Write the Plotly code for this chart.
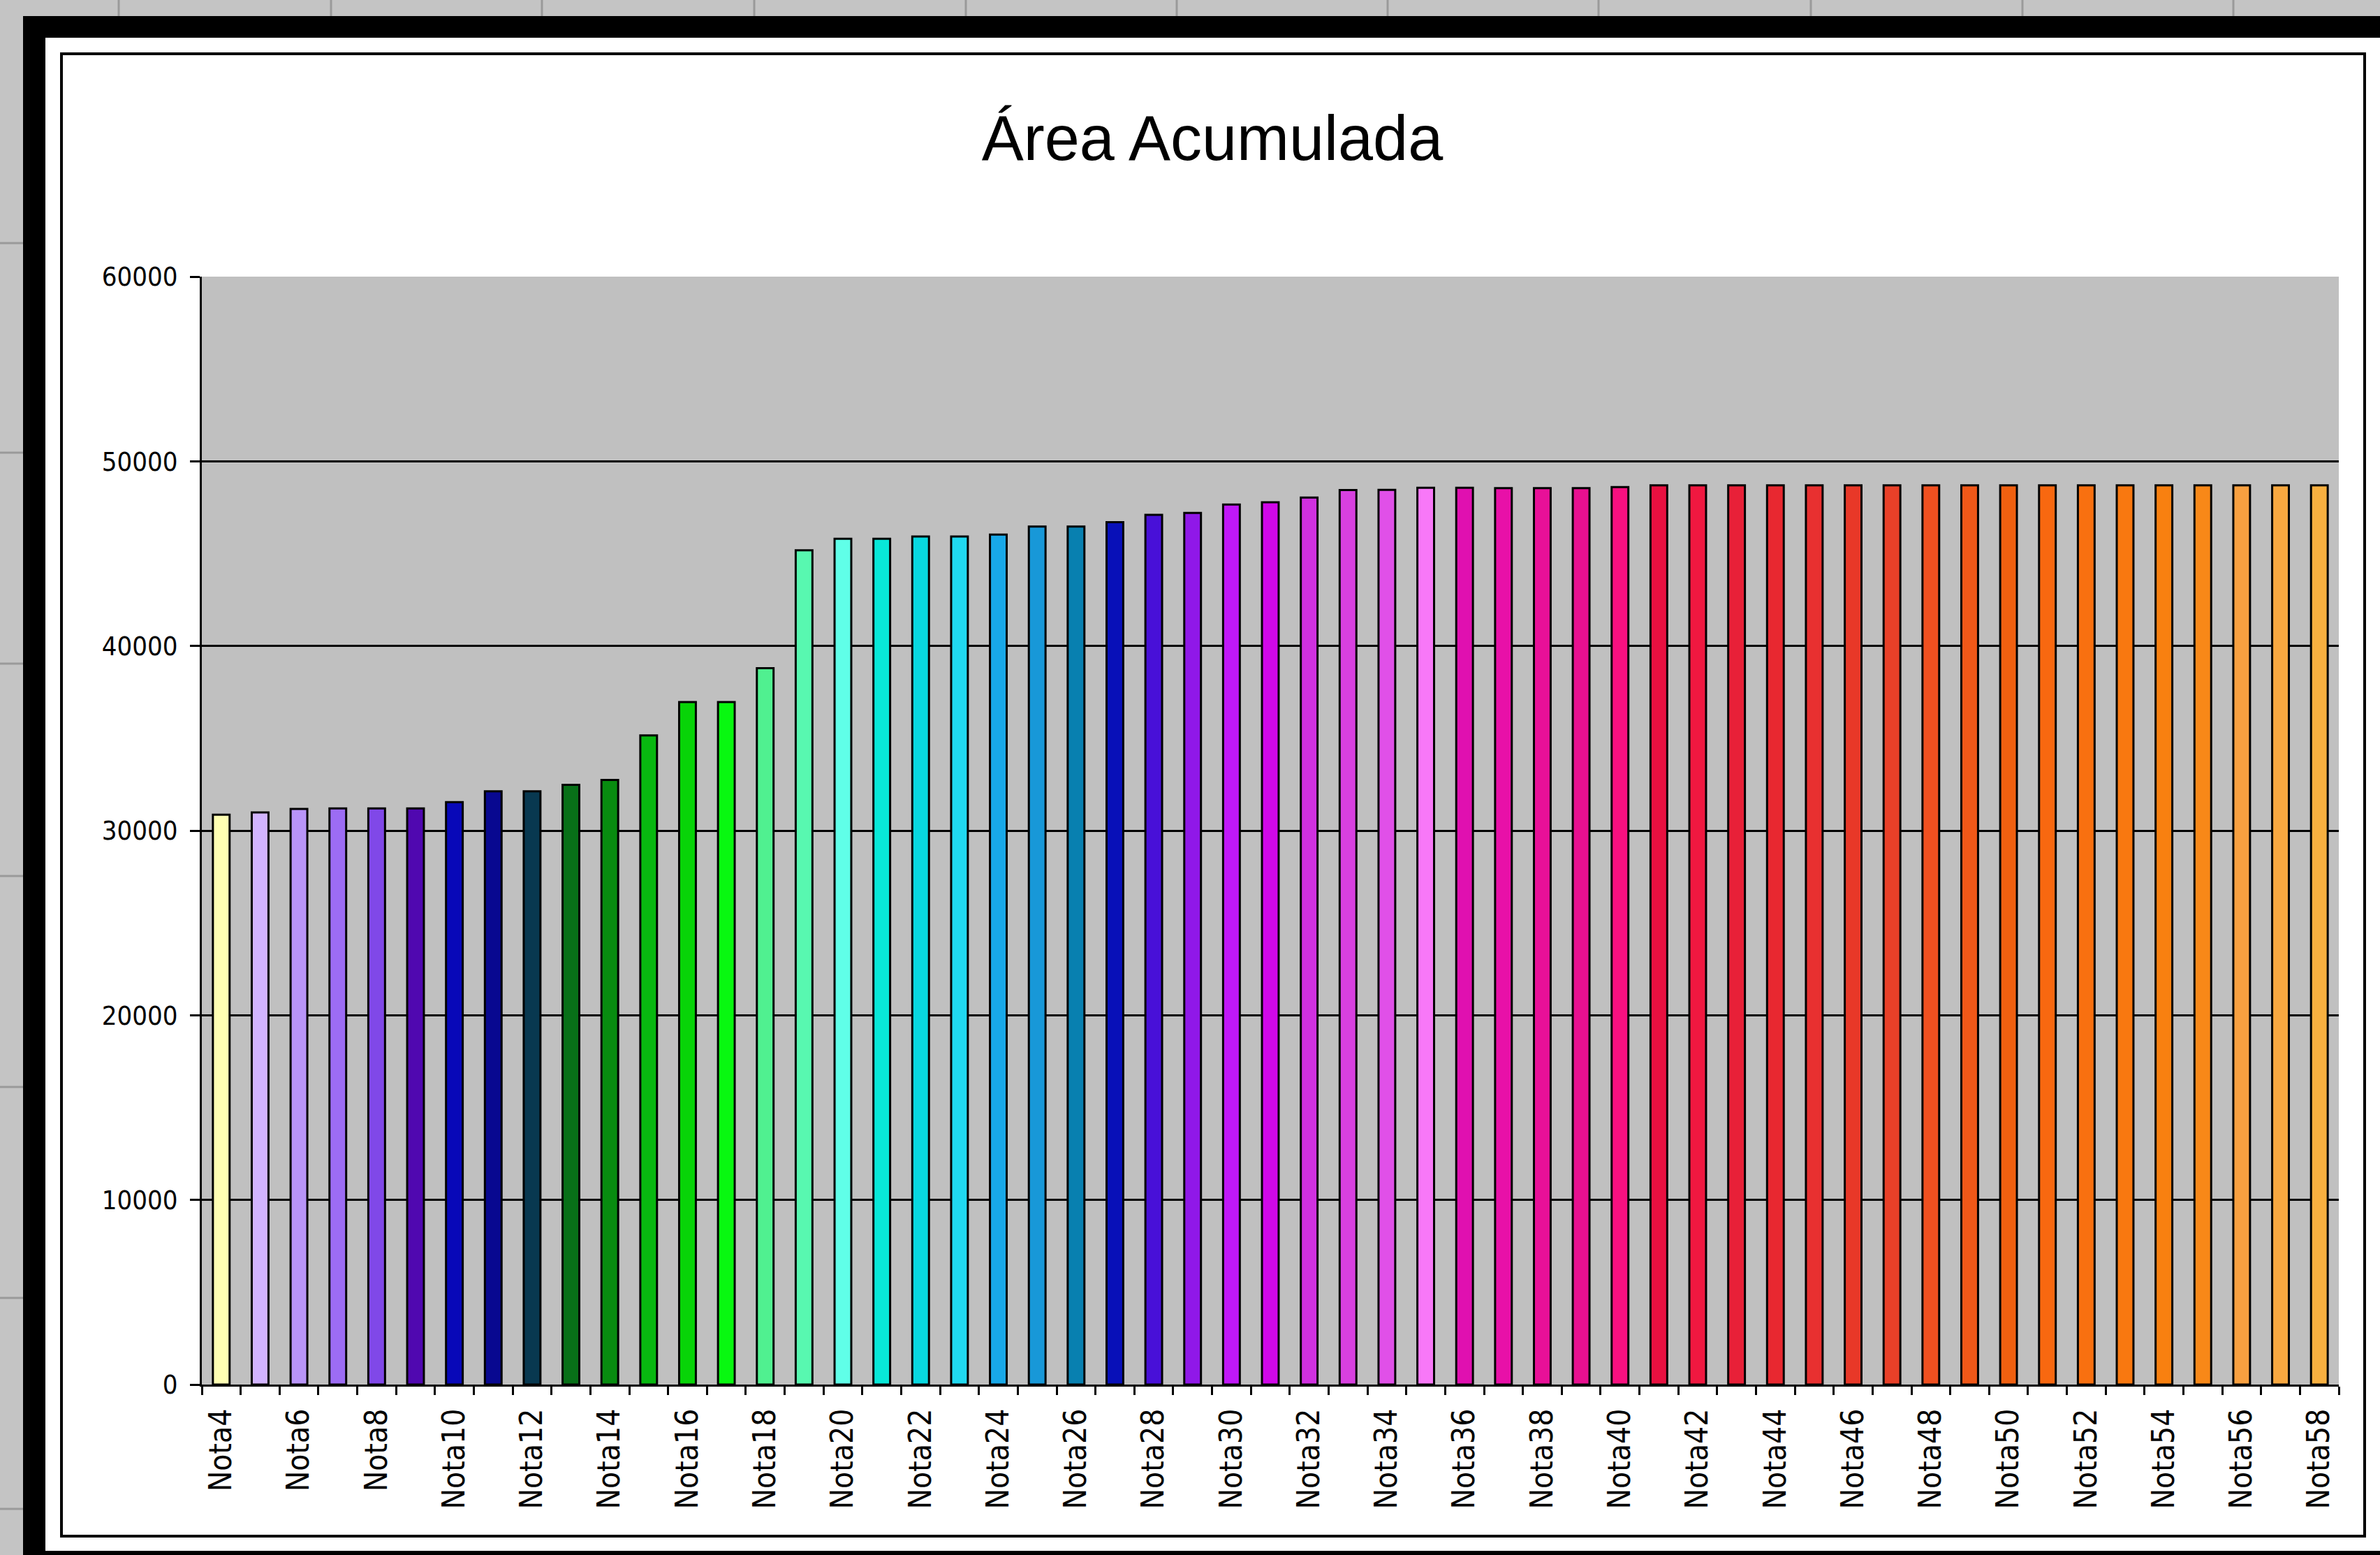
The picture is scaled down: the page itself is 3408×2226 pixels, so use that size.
import plotly.graph_objects as go

# ---- data -------------------------------------------------------------
categories = [f"Nota{n}" for n in range(4, 59)]

area_acumulada = [
    30860, 30980, 31170, 31200, 31200, 31200, 31540, 32130, 32130, 32480,
    32740, 35150, 36960, 36960, 38800, 45180, 45800, 45800, 45930, 45930,
    46030, 46470, 46470, 46700, 47100, 47200, 47660, 47780, 48040, 48440,
    48450, 48570, 48570, 48550, 48550, 48550, 48600,
    48700, 48700, 48700, 48700, 48700, 48700, 48700, 48700, 48700,
    48700, 48700, 48700, 48700, 48700, 48700, 48700, 48700, 48700,
]

bar_colors = [
    "#FFFFB3", "#D2B4FF", "#B894F8", "#9C6CF4", "#8048E8", "#5008B0",
    "#0808B8", "#080890", "#083850", "#087018", "#088C10", "#08B810",
    "#08D408", "#08F810", "#50F090", "#58F8B0", "#60FFE8", "#08E8D8",
    "#08D8E0", "#20D8F0", "#18A8E8", "#1898D8", "#0880B0", "#0810B8",
    "#4810D8", "#9018E8", "#C018F8", "#D008E8", "#D030E0", "#D840E0",
    "#E050E8", "#F878F8", "#E010B0", "#E810A8", "#E81098", "#E81090",
    "#F81080", "#E81040", "#F01840", "#E82038", "#E82830", "#E83030",
    "#E83828", "#E84028", "#F05020", "#F05818", "#F06010", "#F86810",
    "#F87010", "#F87810", "#F88010", "#F88818", "#F8A040", "#F8A840",
    "#F8B040",
]

y_ticks = [0, 10000, 20000, 30000, 40000, 50000, 60000]

# label every other category, tick marks on every boundary
tick_text = [c if i % 2 == 0 else "" for i, c in enumerate(categories)]

# ---- page geometry (pixels) ---------------------------------------------
FIG_W, FIG_H = 3408, 2226
L, T, R, B = 289, 396, 3349, 1982
PW, PH = R - L, B - T


def px(x):
    return (x - L) / PW


def py(y):
    return (B - y) / PH


NARROW = "Liberation Sans Narrow, Arial Narrow, DejaVu Sans Condensed, Liberation Sans, Arial, sans-serif"

fig = go.Figure()
fig.add_trace(
    go.Bar(
        x=categories,
        y=area_acumulada,
        marker=dict(color=bar_colors, line=dict(color="#000000", width=3)),
        showlegend=False,
    )
)

shapes = []
# spreadsheet cell lines behind the chart object
for cx in [170, 474, 776, 1080, 1383, 1685, 1987, 2289, 2593, 2896, 3198]:
    shapes.append(dict(type="line", xref="paper", yref="paper",
                       x0=px(cx), x1=px(cx), y0=py(0), y1=py(24),
                       line=dict(color="#9a9a9a", width=3), layer="below"))
for ry in [348, 648, 950, 1254, 1556, 1858, 2160]:
    shapes.append(dict(type="line", xref="paper", yref="paper",
                       x0=px(0), x1=px(36), y0=py(ry), y1=py(ry),
                       line=dict(color="#9a9a9a", width=3), layer="below"))
# thick black window frame
shapes.append(dict(type="rect", xref="paper", yref="paper",
                   x0=px(33), x1=px(FIG_W + 20), y0=py(23), y1=py(FIG_H + 20),
                   fillcolor="#000000", line=dict(width=0), layer="below"))
# white chart area
shapes.append(dict(type="rect", xref="paper", yref="paper",
                   x0=px(65), x1=px(FIG_W + 20), y0=py(54), y1=py(2220),
                   fillcolor="#ffffff", line=dict(width=0), layer="below"))
# chart area border
shapes.append(dict(type="rect", xref="paper", yref="paper",
                   x0=px(88), x1=px(3386), y0=py(77), y1=py(2199),
                   fillcolor="rgba(0,0,0,0)", line=dict(color="#000000", width=4),
                   layer="below"))
# grey plot area
shapes.append(dict(type="rect", xref="paper", yref="paper",
                   x0=0, x1=1, y0=0, y1=1,
                   fillcolor="#C0C0C0", line=dict(width=0), layer="below"))

fig.update_layout(
    width=FIG_W,
    height=FIG_H,
    autosize=False,
    margin=dict(l=L, r=FIG_W - R, t=T, b=FIG_H - B, pad=0),
    paper_bgcolor="#C4C4C4",
    plot_bgcolor="rgba(0,0,0,0)",
    bargap=0.57,
    shapes=shapes,
    title=dict(
        text="Área Acumulada",
        x=1736 / FIG_W,
        xref="container",
        xanchor="center",
        y=1 - 197 / FIG_H,
        yref="container",
        yanchor="middle",
        font=dict(family="Liberation Sans, Arial, sans-serif", size=90, color="#000000"),
    ),
)

fig.update_xaxes(
    type="category",
    tickmode="array",
    tickvals=categories,
    ticktext=tick_text,
    tickson="boundaries",
    ticks="outside",
    ticklen=12,
    tickwidth=3,
    tickcolor="#000000",
    tickangle=-90,
    ticklabelstandoff=14,
    tickfont=dict(family=NARROW, size=44, color="#000000"),
    showline=True,
    linecolor="#000000",
    linewidth=3,
    showgrid=False,
    zeroline=False,
)

fig.update_yaxes(
    range=[0, 60000],
    tickmode="array",
    tickvals=y_ticks,
    tickformat="d",
    ticks="outside",
    ticklen=14,
    tickwidth=3,
    tickcolor="#000000",
    ticklabelstandoff=10,
    tickfont=dict(family=NARROW, size=38, color="#000000"),
    showline=True,
    linecolor="#000000",
    linewidth=3,
    showgrid=True,
    gridcolor="#000000",
    gridwidth=3,
    zeroline=False,
)

fig.write_html("out.html")
